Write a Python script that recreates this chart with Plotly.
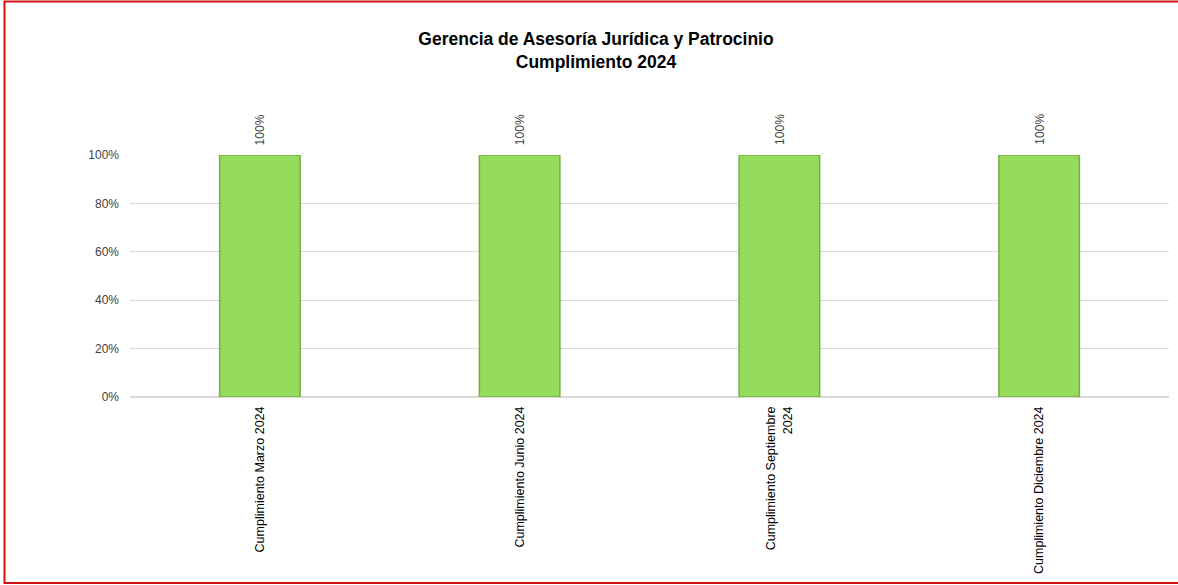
import plotly.graph_objects as go

categories = ["Cumplimiento Marzo 2024", "Cumplimiento Junio 2024",
              "Cumplimiento Septiembre<br>2024", "Cumplimiento Diciembre 2024"]
values = [1.0, 1.0, 1.0, 1.0]
value_labels = ["100%", "100%", "100%", "100%"]

W, H = 1178, 585
ml, mr, mt, mb = 130, 9, 155, 188
pw, ph = W - ml - mr, H - mt - mb

def px2x(px):
    return (px - ml) / pw

def py2y(py):
    return (H - mb - py) / ph

FONT = "Liberation Sans, Arial"

fig = go.Figure()
fig.add_trace(go.Bar(
    x=categories, y=values,
    marker=dict(color="#96DB5B", line=dict(color="#74B040", width=1.5)),
    width=0.31,
    hoverinfo="skip",
))

for c, v, t in zip(categories, values, value_labels):
    fig.add_annotation(x=c, y=v, text=t, textangle=-90, showarrow=False,
                       xanchor="center", yanchor="bottom", yshift=8,
                       font=dict(family=FONT, size=12, color="#404040"))

fig.update_layout(
    width=W, height=H,
    margin=dict(l=ml, r=mr, t=mt, b=mb),
    paper_bgcolor="white", plot_bgcolor="white",
    showlegend=False,
    font=dict(family=FONT, color="#404040"),
    title=dict(
        text="<b>Gerencia de Asesoría Jurídica y Patrocinio<br>Cumplimiento 2024</b>",
        x=596 / W, xanchor="center",
        y=1 - 45 / H, yanchor="top",
        font=dict(family=FONT, size=17.5, color="black"),
    ),
    xaxis=dict(
        tickangle=-90, showgrid=False, showline=False, ticks="",
        ticklabelstandoff=6,
        tickfont=dict(family=FONT, size=12.5, color="black"),
    ),
    yaxis=dict(
        range=[0, 1.0], tickformat=".0%", dtick=0.2,
        gridcolor="#D9D9D9", gridwidth=1, zeroline=True, zerolinecolor="#D9D9D9",
        showline=False, ticks="", ticklabelstandoff=10,
        tickfont=dict(family=FONT, size=12, color="#3F3F3F"),
    ),
)

# red outer frame
fig.add_shape(type="rect", xref="paper", yref="paper",
              x0=px2x(4.5), x1=px2x(1190), y0=py2y(583), y1=py2y(1.5),
              line=dict(color="#D01010", width=2), fillcolor="rgba(0,0,0,0)", layer="above")

fig.write_html("out.html", config={"displayModeBar": False},
               post_script="document.body.style.margin='0';document.body.style.overflow='hidden';")
